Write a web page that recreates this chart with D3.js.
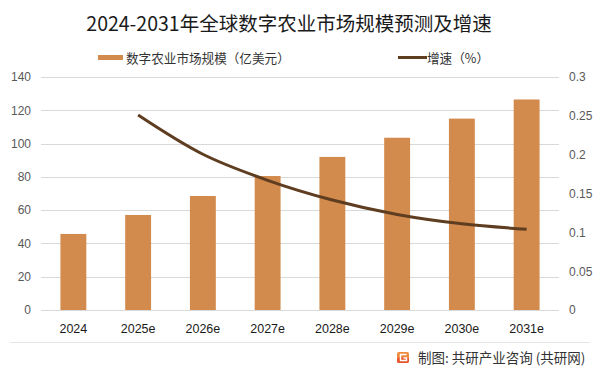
<!DOCTYPE html>
<html>
<head>
<meta charset="utf-8">
<script src="https://cdn.jsdelivr.net/npm/d3@7"></script>
<style>
  body { margin: 0; background: #fff; }
  text { font-family: "Noto Sans CJK SC", "Noto Sans", sans-serif; }
</style>
</head>
<body>
<div id="chart"></div>
<script>
  "use strict";
  // data
  var years = ["2024", "2025e", "2026e", "2027e", "2028e", "2029e", "2030e", "2031e"];
  var marketSize = [45.7, 57.1, 68.5, 80.5, 92, 103.5, 115, 126.5];
  var growth = [null, 0.251, 0.2005, 0.167, 0.1416, 0.123, 0.111, 0.104];
  var leftTicks = [0, 20, 40, 60, 80, 100, 120, 140];
  var rightTicks = [0, 0.05, 0.1, 0.15, 0.2, 0.25, 0.3];

  var W = 601, H = 374;
  var plotLeft = 41, plotRight = 559, plotTop = 77, plotBottom = 310;
  var barColor = "#d38b4d", lineColor = "#5e3d21";

  var svg = d3.select("#chart").append("svg")
    .attr("width", W).attr("height", H);

  var x = d3.scaleBand().domain(years).range([plotLeft, plotRight]).paddingInner(0.6).paddingOuter(0.3);
  var y = d3.scaleLinear().domain([0, 140]).range([plotBottom, plotTop]);
  var y2 = d3.scaleLinear().domain([0, 0.3]).range([plotBottom, plotTop]);

  // title
  svg.append("text").attr("x", 289).attr("y", 31)
    .attr("text-anchor", "middle").attr("font-size", 19.5).attr("fill", "#1a1a1a")
    .text("2024-2031年全球数字农业市场规模预测及增速");

  // legend
  svg.append("rect").attr("x", 98).attr("y", 55).attr("width", 25).attr("height", 5).attr("fill", barColor);
  svg.append("text").attr("x", 126).attr("y", 63).attr("font-size", 12.6).attr("fill", "#333")
    .text("数字农业市场规模（亿美元）");
  svg.append("line").attr("x1", 398).attr("x2", 427).attr("y1", 57.5).attr("y2", 57.5)
    .attr("stroke", lineColor).attr("stroke-width", 3);
  svg.append("text").attr("x", 427).attr("y", 63).attr("font-size", 12.6).attr("fill", "#333")
    .text("增速（%）");

  // gridlines
  svg.append("g").selectAll("line").data(leftTicks).join("line")
    .attr("x1", plotLeft).attr("x2", plotRight)
    .attr("y1", function(d) { return Math.round(y(d)) + 0.5; })
    .attr("y2", function(d) { return Math.round(y(d)) + 0.5; })
    .attr("stroke", "#d9d9d9").attr("stroke-width", 1);

  // left axis
  var gl = svg.append("g").attr("transform", "translate(" + (plotLeft - 10) + ",0)")
    .call(d3.axisLeft(y).tickValues(leftTicks).tickSize(0).tickPadding(0));
  gl.select(".domain").remove();
  gl.selectAll("text").attr("font-size", 12).attr("fill", "#595959")
    .style("font-family", "'Liberation Sans', sans-serif");

  // right axis
  var gr = svg.append("g").attr("transform", "translate(" + (plotRight + 10) + ",0)")
    .call(d3.axisRight(y2).tickValues(rightTicks).tickSize(0).tickPadding(0)
      .tickFormat(function(d) { return d3.format("~g")(d); }));
  gr.select(".domain").remove();
  gr.selectAll("text").attr("font-size", 12).attr("fill", "#595959")
    .style("font-family", "'Liberation Sans', sans-serif");

  // bars
  svg.append("g").selectAll("rect").data(marketSize).join("rect")
    .attr("x", function(d, i) { return x(years[i]); })
    .attr("width", x.bandwidth())
    .attr("y", function(d) { return y(d); })
    .attr("height", function(d) { return y(0) - y(d); })
    .attr("fill", barColor);

  // x axis labels
  var gx = svg.append("g").attr("transform", "translate(0," + (plotBottom + 11) + ")")
    .call(d3.axisBottom(x).tickSize(0).tickPadding(0));
  gx.select(".domain").remove();
  gx.selectAll("text").attr("font-size", 12.5).attr("fill", "#1a1a1a").attr("dy", "0.95em")
    .style("font-family", "'Liberation Sans', sans-serif");

  // growth line
  var pts = years.map(function(d, i) { return [x(d) + x.bandwidth() / 2, growth[i]]; })
    .filter(function(p) { return p[1] != null; });
  var line = d3.line()
    .x(function(p) { return p[0]; })
    .y(function(p) { return y2(p[1]); })
    .curve(d3.curveCatmullRom.alpha(0.5));
  svg.append("path").datum(pts).attr("d", line)
    .attr("fill", "none").attr("stroke", lineColor).attr("stroke-width", 3)
    .attr("stroke-linecap", "butt");

  // bottom separator and source
  svg.append("line").attr("x1", 10).attr("x2", 590).attr("y1", 342.5).attr("y2", 342.5)
    .attr("stroke", "#e6e6e6");
  var logo = svg.append("g").attr("transform", "translate(397,352)");
  logo.append("rect").attr("width", 12).attr("height", 11).attr("rx", 2).attr("fill", "#f08a3c");
  logo.append("rect").attr("y", 5.5).attr("width", 12).attr("height", 5.5).attr("rx", 2).attr("fill", "#e8532a");
  logo.append("path").attr("d", "M9.5 2.5 H3.5 V8.5 H9.5 V6 H6.5").attr("fill", "none")
    .attr("stroke", "#fff").attr("stroke-width", 1.5);
  svg.append("text").attr("x", 418).attr("y", 363).attr("font-size", 13.5).attr("fill", "#333")
    .text("制图: 共研产业咨询 (共研网)");
</script>
</body>
</html>
